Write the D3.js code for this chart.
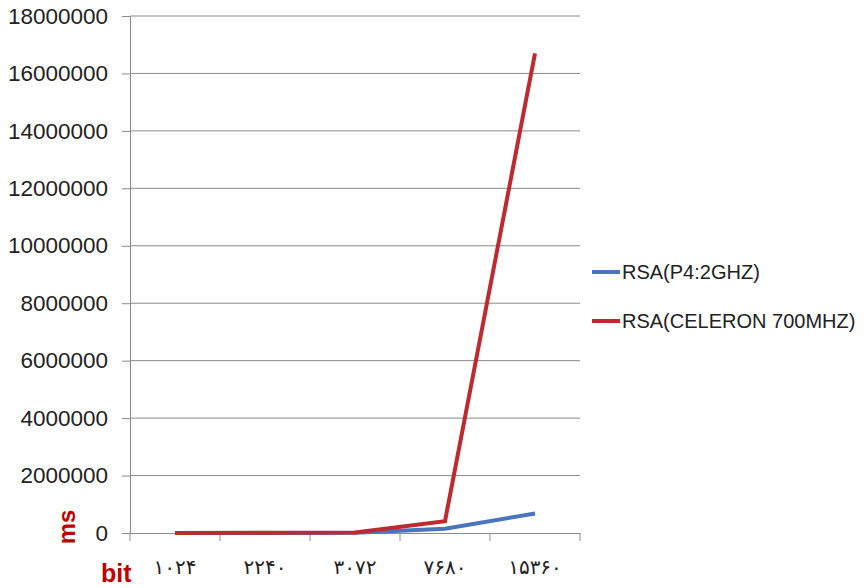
<!DOCTYPE html>
<html>
<head>
<meta charset="utf-8">
<script src="https://cdn.jsdelivr.net/npm/d3@7/dist/d3.min.js"></script>
<style>
  html, body { margin: 0; padding: 0; background: #ffffff; }
  svg { display: block; }
</style>
</head>
<body>
<div id="chart"></div>
<script>
const categories = ["۱۰۲۴", "۲۲۴۰", "۳۰۷۲", "۷۶۸۰", "۱۵۳۶۰"];
const seriesNames = ["RSA(P4:2GHZ)", "RSA(CELERON 700MHZ)"];
const p4Values = [500, 2000, 5000, 150000, 680000];
const celeronValues = [2000, 6000, 15000, 410000, 16700000];
const yTicks = [0, 2000000, 4000000, 6000000, 8000000, 10000000, 12000000, 14000000, 16000000, 18000000];
const colors = ["#4a74be", "#bd2a2f"];

const W = 868, H = 588;
const mLeft = 130, mRight = 580, mTop = 16, mBottom = 533;

const svg = d3.select("#chart").append("svg").attr("width", W).attr("height", H);

const x = d3.scaleBand().domain(categories).range([mLeft, mRight]).paddingInner(0).paddingOuter(0);
const y = d3.scaleLinear().domain([0, 18000000]).range([mBottom, mTop]);

const grid = "#8a8a8a";

// gridlines + y ticks
const yAxis = d3.axisLeft(y).tickValues(yTicks).tickSize(8).tickFormat(d => String(d));
const gy = svg.append("g").attr("transform", `translate(${mLeft},0)`).call(yAxis);
gy.select(".domain").attr("stroke", grid);
gy.selectAll(".tick line").attr("stroke", grid);
gy.selectAll(".tick text")
  .attr("x", -22)
  .attr("fill", "#222")
  .style("font-family", "'Liberation Sans', Arial, sans-serif")
  .style("font-size", "22.5px");

svg.append("g").selectAll("line").data(yTicks.filter(d => d > 0)).join("line")
  .attr("x1", mLeft).attr("x2", mRight)
  .attr("y1", d => y(d)).attr("y2", d => y(d))
  .attr("stroke", grid).attr("stroke-width", 1);

// x axis
const xAxis = d3.axisBottom(x).tickSize(0).tickFormat(d => d);
const gx = svg.append("g").attr("transform", `translate(0,${mBottom})`).call(xAxis);
gx.select(".domain").attr("stroke", grid);
gx.selectAll(".tick text")
  .attr("y", 27)
  .attr("fill", "#222")
  .style("font-family", "'DejaVu Sans', sans-serif")
  .style("font-size", "20px");
// boundary tick marks
const bounds = categories.map(c => x(c)).concat([x(categories[categories.length - 1]) + x.bandwidth()]);
svg.append("g").selectAll("line").data(bounds).join("line")
  .attr("x1", d => d).attr("x2", d => d)
  .attr("y1", mBottom).attr("y2", mBottom + 8)
  .attr("stroke", grid);

// lines
const line = d3.line()
  .x((d, i) => x(categories[i]) + x.bandwidth() / 2)
  .y(d => y(d));

[p4Values, celeronValues].forEach((vals, k) => {
  svg.append("path").datum(vals)
    .attr("d", line)
    .attr("fill", "none")
    .attr("stroke", colors[k])
    .attr("stroke-width", 4)
    .attr("stroke-linejoin", "miter");
});

// legend
const legY = [272, 321];
seriesNames.forEach((name, k) => {
  svg.append("line")
    .attr("x1", 592).attr("x2", 620)
    .attr("y1", legY[k]).attr("y2", legY[k])
    .attr("stroke", colors[k]).attr("stroke-width", 4);
  svg.append("text")
    .attr("x", 622).attr("y", legY[k])
    .attr("dy", "0.35em")
    .attr("fill", "#222")
    .style("font-family", "'Liberation Sans', Arial, sans-serif")
    .style("font-size", "20px")
    .text(name);
});

// axis titles
svg.append("text")
  .attr("transform", "translate(75,527) rotate(-90)")
  .attr("text-anchor", "middle")
  .attr("fill", "#c00000")
  .style("font-family", "'Liberation Sans', Arial, sans-serif")
  .style("font-weight", "bold")
  .style("font-size", "24px")
  .text("ms");

svg.append("text")
  .attr("x", 101).attr("y", 582)
  .attr("fill", "#c00000")
  .style("font-family", "'Liberation Sans', Arial, sans-serif")
  .style("font-weight", "bold")
  .style("font-size", "25px")
  .text("bit");
</script>
</body>
</html>
